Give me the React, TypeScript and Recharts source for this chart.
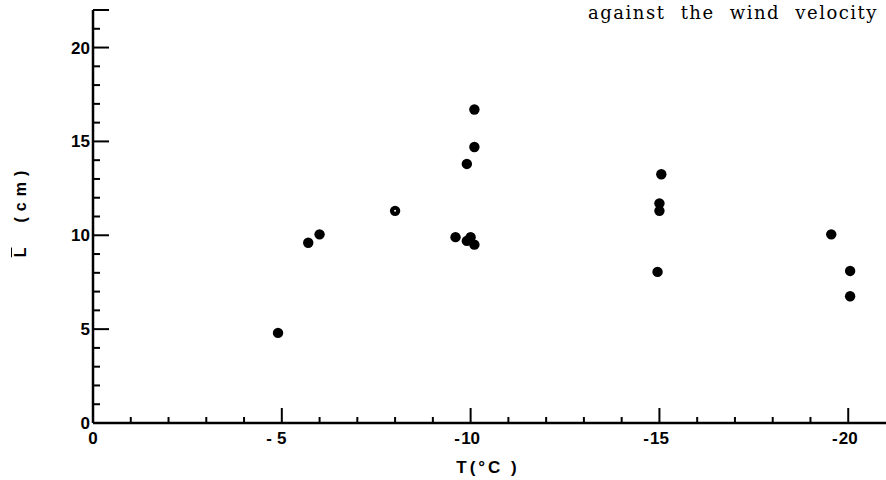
import { ScatterChart, Scatter, XAxis, YAxis } from "recharts"

const temps = [-4.9, -5.7, -6.0, -9.6, -9.9, -10.0, -10.1, -9.9, -10.1, -10.1, -15.0, -15.0, -15.05, -14.95, -19.55, -20.05, -20.05]
const lengths = [4.8, 9.6, 10.05, 9.9, 9.7, 9.9, 9.5, 13.8, 14.7, 16.7, 11.7, 11.3, 13.25, 8.05, 10.05, 8.1, 6.75]
// one dot at -8 has a small pale centre in the original print
const ringTemps = [-8.0]
const ringLengths = [11.3]

const xTicks = [0, -1, -2, -3, -4, -5, -6, -7, -8, -9, -10, -11, -12, -13, -14, -15, -16, -17, -18, -19, -20, -21]
const yTicks = [0, 1, 2, 3, 4, 5, 6, 7, 8, 9, 10, 11, 12, 13, 14, 15, 16, 17, 18, 19, 20, 21, 22]
const xMajor: Record<number, string> = { 0: "0", [-5]: "5", [-10]: "10", [-15]: "15", [-20]: "20" }
const yMajor: Record<number, string> = { 0: "0", 5: "5", 10: "10", 15: "15", 20: "20" }

const points = temps.map((t, i) => ({ t, l: lengths[i] }))
const ringPoints = ringTemps.map((t, i) => ({ t, l: ringLengths[i] }))

const tickFont = { fontFamily: "Liberation Sans, Arial, sans-serif", fontSize: 17, fontWeight: 700 }

const XTick = (props: any) => {
  const { x, y, payload } = props
  const v = payload.value
  const label = xMajor[v]
  const big = label !== undefined && v !== 0
  const half = label ? label.length * 4.8 : 0
  return (
    <g>
      {v !== 0 && v !== -21 && (
        <line x1={x} x2={x} y1={y} y2={y - (big ? 15 : 6)} stroke="#000" strokeWidth={2} />
      )}
      {label !== undefined && (
        <text x={x} y={y + 21} textAnchor="middle" fill="#000" {...tickFont}>{label}</text>
      )}
      {label !== undefined && v !== 0 && (
        <text x={x - half - (v === -5 ? 5 : 1)} y={y + 21} textAnchor="end" fill="#000" {...tickFont}>-</text>
      )}
    </g>
  )
}

const YTick = (props: any) => {
  const { x, y, payload } = props
  const v = payload.value
  const label = yMajor[v]
  const big = label !== undefined || v === 22
  return (
    <g>
      {v !== 0 && (
        <line x1={x} x2={x + (big ? 16 : 7)} y1={y} y2={y} stroke="#000" strokeWidth={2} />
      )}
      {label !== undefined && (
        <text x={x - 3} y={y + 6} textAnchor="end" fill="#000" {...tickFont}>{label}</text>
      )}
    </g>
  )
}

const Dot = (props: any) => <circle cx={props.cx} cy={props.cy} r={5.2} fill="#000" />
const RingDot = (props: any) => (
  <g>
    <circle cx={props.cx} cy={props.cy} r={5.2} fill="#000" />
    <circle cx={props.cx} cy={props.cy} r={1} fill="#fff" />
  </g>
)

export default function App() {
  return (
    <div style={{ position: "absolute", left: 0, top: 0, width: 886, height: 480, background: "#fff" }}>
      <div
        style={{
          position: "absolute",
          right: 8,
          top: 2,
          fontFamily: "DejaVu Serif, serif",
          fontSize: 18,
          letterSpacing: 1.5,
          wordSpacing: 8,
          color: "#000",
          whiteSpace: "nowrap",
        }}
      >
        against the wind velocity
      </div>
      <ScatterChart width={886} height={480} margin={{ top: 10, right: 0, bottom: 0, left: 0 }}>
        <XAxis
          type="number"
          dataKey="t"
          domain={[-21, 0]}
          reversed
          ticks={xTicks}
          interval={0}
          tickSize={0}
          tickMargin={0}
          tickLine={false}
          tick={<XTick />}
          axisLine={{ stroke: "#000", strokeWidth: 2.5 }}
          height={57}
        />
        <YAxis
          type="number"
          dataKey="l"
          domain={[0, 22]}
          ticks={yTicks}
          interval={0}
          tickSize={0}
          tickMargin={0}
          tickLine={false}
          tick={<YTick />}
          axisLine={{ stroke: "#000", strokeWidth: 2.5 }}
          width={93}
        />
        <Scatter data={points} shape={<Dot />} isAnimationActive={false} />
        <Scatter data={ringPoints} shape={<RingDot />} isAnimationActive={false} />
      </ScatterChart>
      <div
        style={{
          position: "absolute",
          left: 21,
          top: 211,
          transform: "translate(-50%, -50%) rotate(-90deg)",
          fontFamily: "Liberation Sans, Arial, sans-serif",
          fontSize: 16,
          fontWeight: 700,
          whiteSpace: "nowrap",
        }}
      >
        <span style={{ textDecoration: "overline" }}>L</span>
        <span style={{ marginLeft: 25, letterSpacing: 6 }}>(cm)</span>
      </div>
      <div
        style={{
          position: "absolute",
          left: 488,
          top: 468,
          transform: "translate(-50%, -50%)",
          fontFamily: "Liberation Sans, Arial, sans-serif",
          fontSize: 17,
          fontWeight: 700,
          letterSpacing: 3,
          whiteSpace: "nowrap",
        }}
      >
        T(°C )
      </div>
    </div>
  )
}
